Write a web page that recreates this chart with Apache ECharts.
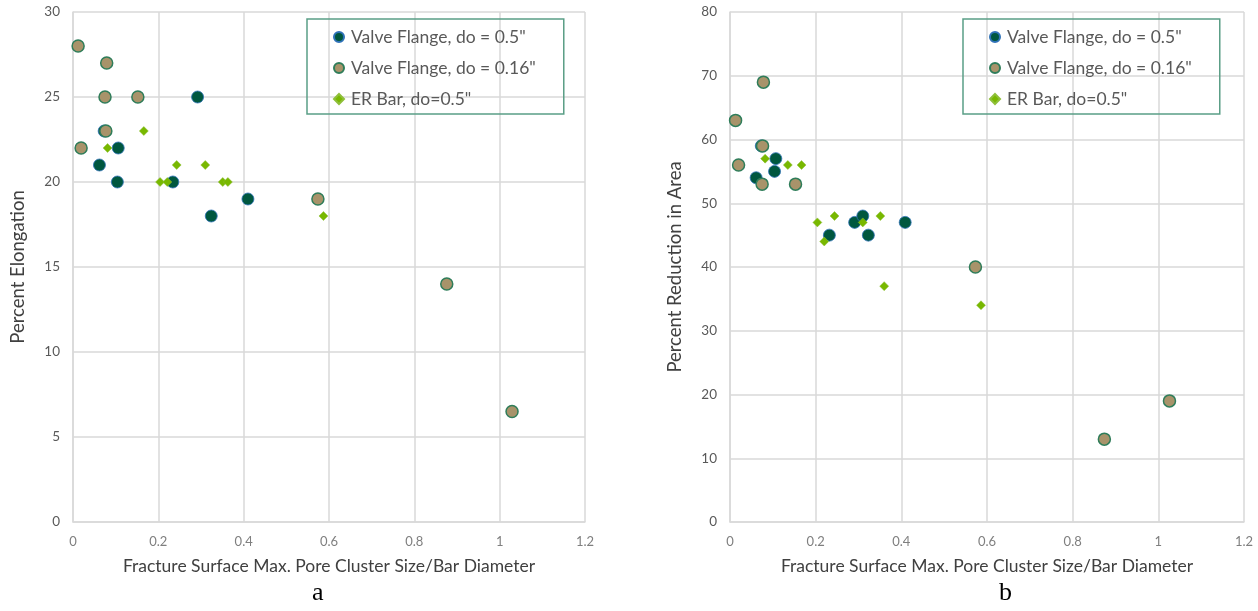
<!DOCTYPE html>
<html>
<head>
    <meta charset="utf-8">
    <script type="text/javascript" src="https://cdn.jsdelivr.net/npm/echarts@6/dist/echarts.min.js"></script>
</head>
<body style="margin:0; background-color:#fff">
<div id="main" style="width: 1258px; height: 611px;"></div>
<script type="text/javascript">
    // series names
    var nameVF05  = 'Valve Flange, do = 0.5"';
    var nameVF016 = 'Valve Flange, do = 0.16"';
    var nameER    = 'ER Bar, do=0.5"';

    // chart a: pore ratio vs percent elongation
    var elongVF05  = [[0.062, 21], [0.104, 20], [0.106, 22], [0.073, 23], [0.234, 20], [0.292, 25], [0.324, 18], [0.41, 19]];
    var elongVF016 = [[0.012, 28], [0.019, 22], [0.075, 25], [0.077, 23], [0.079, 27], [0.152, 25], [0.574, 19], [0.876, 14], [1.029, 6.5]];
    var elongER    = [[0.081, 22], [0.166, 23], [0.204, 20], [0.221, 20], [0.243, 21], [0.31, 21], [0.351, 20], [0.363, 20], [0.587, 18]];

    // chart b: pore ratio vs percent reduction in area
    var raVF05  = [[0.061, 54], [0.104, 55], [0.107, 57], [0.073, 59], [0.232, 45], [0.291, 47], [0.31, 48], [0.323, 45], [0.409, 47]];
    var raVF016 = [[0.013, 63], [0.020, 56], [0.075, 53], [0.076, 59], [0.078, 69], [0.153, 53], [0.573, 40], [0.874, 13], [1.026, 19]];
    var raER    = [[0.082, 57], [0.135, 56], [0.167, 56], [0.204, 47], [0.22, 44], [0.244, 48], [0.31, 47], [0.351, 48], [0.36, 37], [0.586, 34]];

    var xTitle = 'Fracture Surface Max. Pore Cluster Size/Bar Diameter';
    var yTitleA = 'Percent Elongation';
    var yTitleB = 'Percent Reduction in Area';

    var font = 'Lato';
    var gridColor = '#d9d9d9';

    function xAxis(gi) {
        return {
            type: 'value', gridIndex: gi, min: 0, max: 1.2, interval: 0.2,
            name: xTitle, nameLocation: 'middle', nameGap: 35,
            nameTextStyle: { fontFamily: font, fontSize: 17.5, color: '#404040' },
            axisLine: { lineStyle: { color: gridColor, width: 1.5 } },
            axisTick: { show: false },
            axisLabel: { fontFamily: font, fontSize: 13, color: '#7f7f7f', margin: 13 },
            splitLine: { lineStyle: { color: gridColor, width: 1.5 } }
        };
    }

    function yAxis(gi, max, step, title) {
        return {
            type: 'value', gridIndex: gi, min: 0, max: max, interval: step,
            name: title, nameLocation: 'middle', nameGap: 45,
            nameTextStyle: { fontFamily: font, fontSize: 18.5, color: '#404040' },
            axisLine: { show: true, lineStyle: { color: gridColor, width: 1.5 } },
            axisTick: { show: false },
            axisLabel: { fontFamily: font, fontSize: 13.5, color: '#595959', margin: 13 },
            splitLine: { lineStyle: { color: gridColor, width: 1.5 } }
        };
    }

    function vf05(gi, data) {
        return { name: nameVF05, type: 'scatter', xAxisIndex: gi, yAxisIndex: gi, data: data,
            symbol: 'circle', symbolSize: 12,
            itemStyle: { color: '#00573f', borderColor: '#2f72b8', borderWidth: 0.8, opacity: 1 } };
    }
    function vf016(gi, data) {
        return { name: nameVF016, type: 'scatter', xAxisIndex: gi, yAxisIndex: gi, data: data,
            symbol: 'circle', symbolSize: 12,
            itemStyle: { color: '#a8936a', borderColor: '#2f7d5a', borderWidth: 1.5, opacity: 1 } };
    }
    function er(gi, data) {
        return { name: nameER, type: 'scatter', xAxisIndex: gi, yAxisIndex: gi, data: data,
            symbol: 'diamond', symbolSize: 9,
            itemStyle: { color: '#78b800', borderColor: '#8fbf3a', borderWidth: 0.5, opacity: 1 } };
    }

    function legend(left) {
        return {
            orient: 'vertical', left: left, top: 19,
            data: [nameVF05, nameVF016, nameER],
            borderColor: '#5a9e86', borderWidth: 1.5, borderRadius: 0,
            padding: [9, 28, 6, 26],
            itemWidth: 10, itemHeight: 10, itemGap: 13,
            textStyle: { fontFamily: font, fontSize: 17.5, lineHeight: 18, color: '#595959', padding: [0, 0, 0, 2] }
        };
    }

    var myChart = echarts.init(document.getElementById('main'));
    var option = {
        animation: false,
        grid: [
            { left: 73, top: 12, width: 512, height: 510 },
            { left: 730, top: 12, width: 514, height: 510 }
        ],
        xAxis: [xAxis(0), xAxis(1)],
        yAxis: [yAxis(0, 30, 5, yTitleA), yAxis(1, 80, 10, yTitleB)],
        legend: [legend(307), legend(963)],
        series: [
            vf05(0, elongVF05), vf016(0, elongVF016), er(0, elongER),
            vf05(1, raVF05), vf016(1, raVF016), er(1, raER)
        ],
        graphic: [
            { type: 'text', left: 312, top: 580, style: { text: 'a', font: '26px "Liberation Serif"', fill: '#000' } },
            { type: 'text', left: 999, top: 580, style: { text: 'b', font: '26px "Liberation Serif"', fill: '#000' } }
        ]
    };
    myChart.setOption(option);
</script>
</body>
</html>
